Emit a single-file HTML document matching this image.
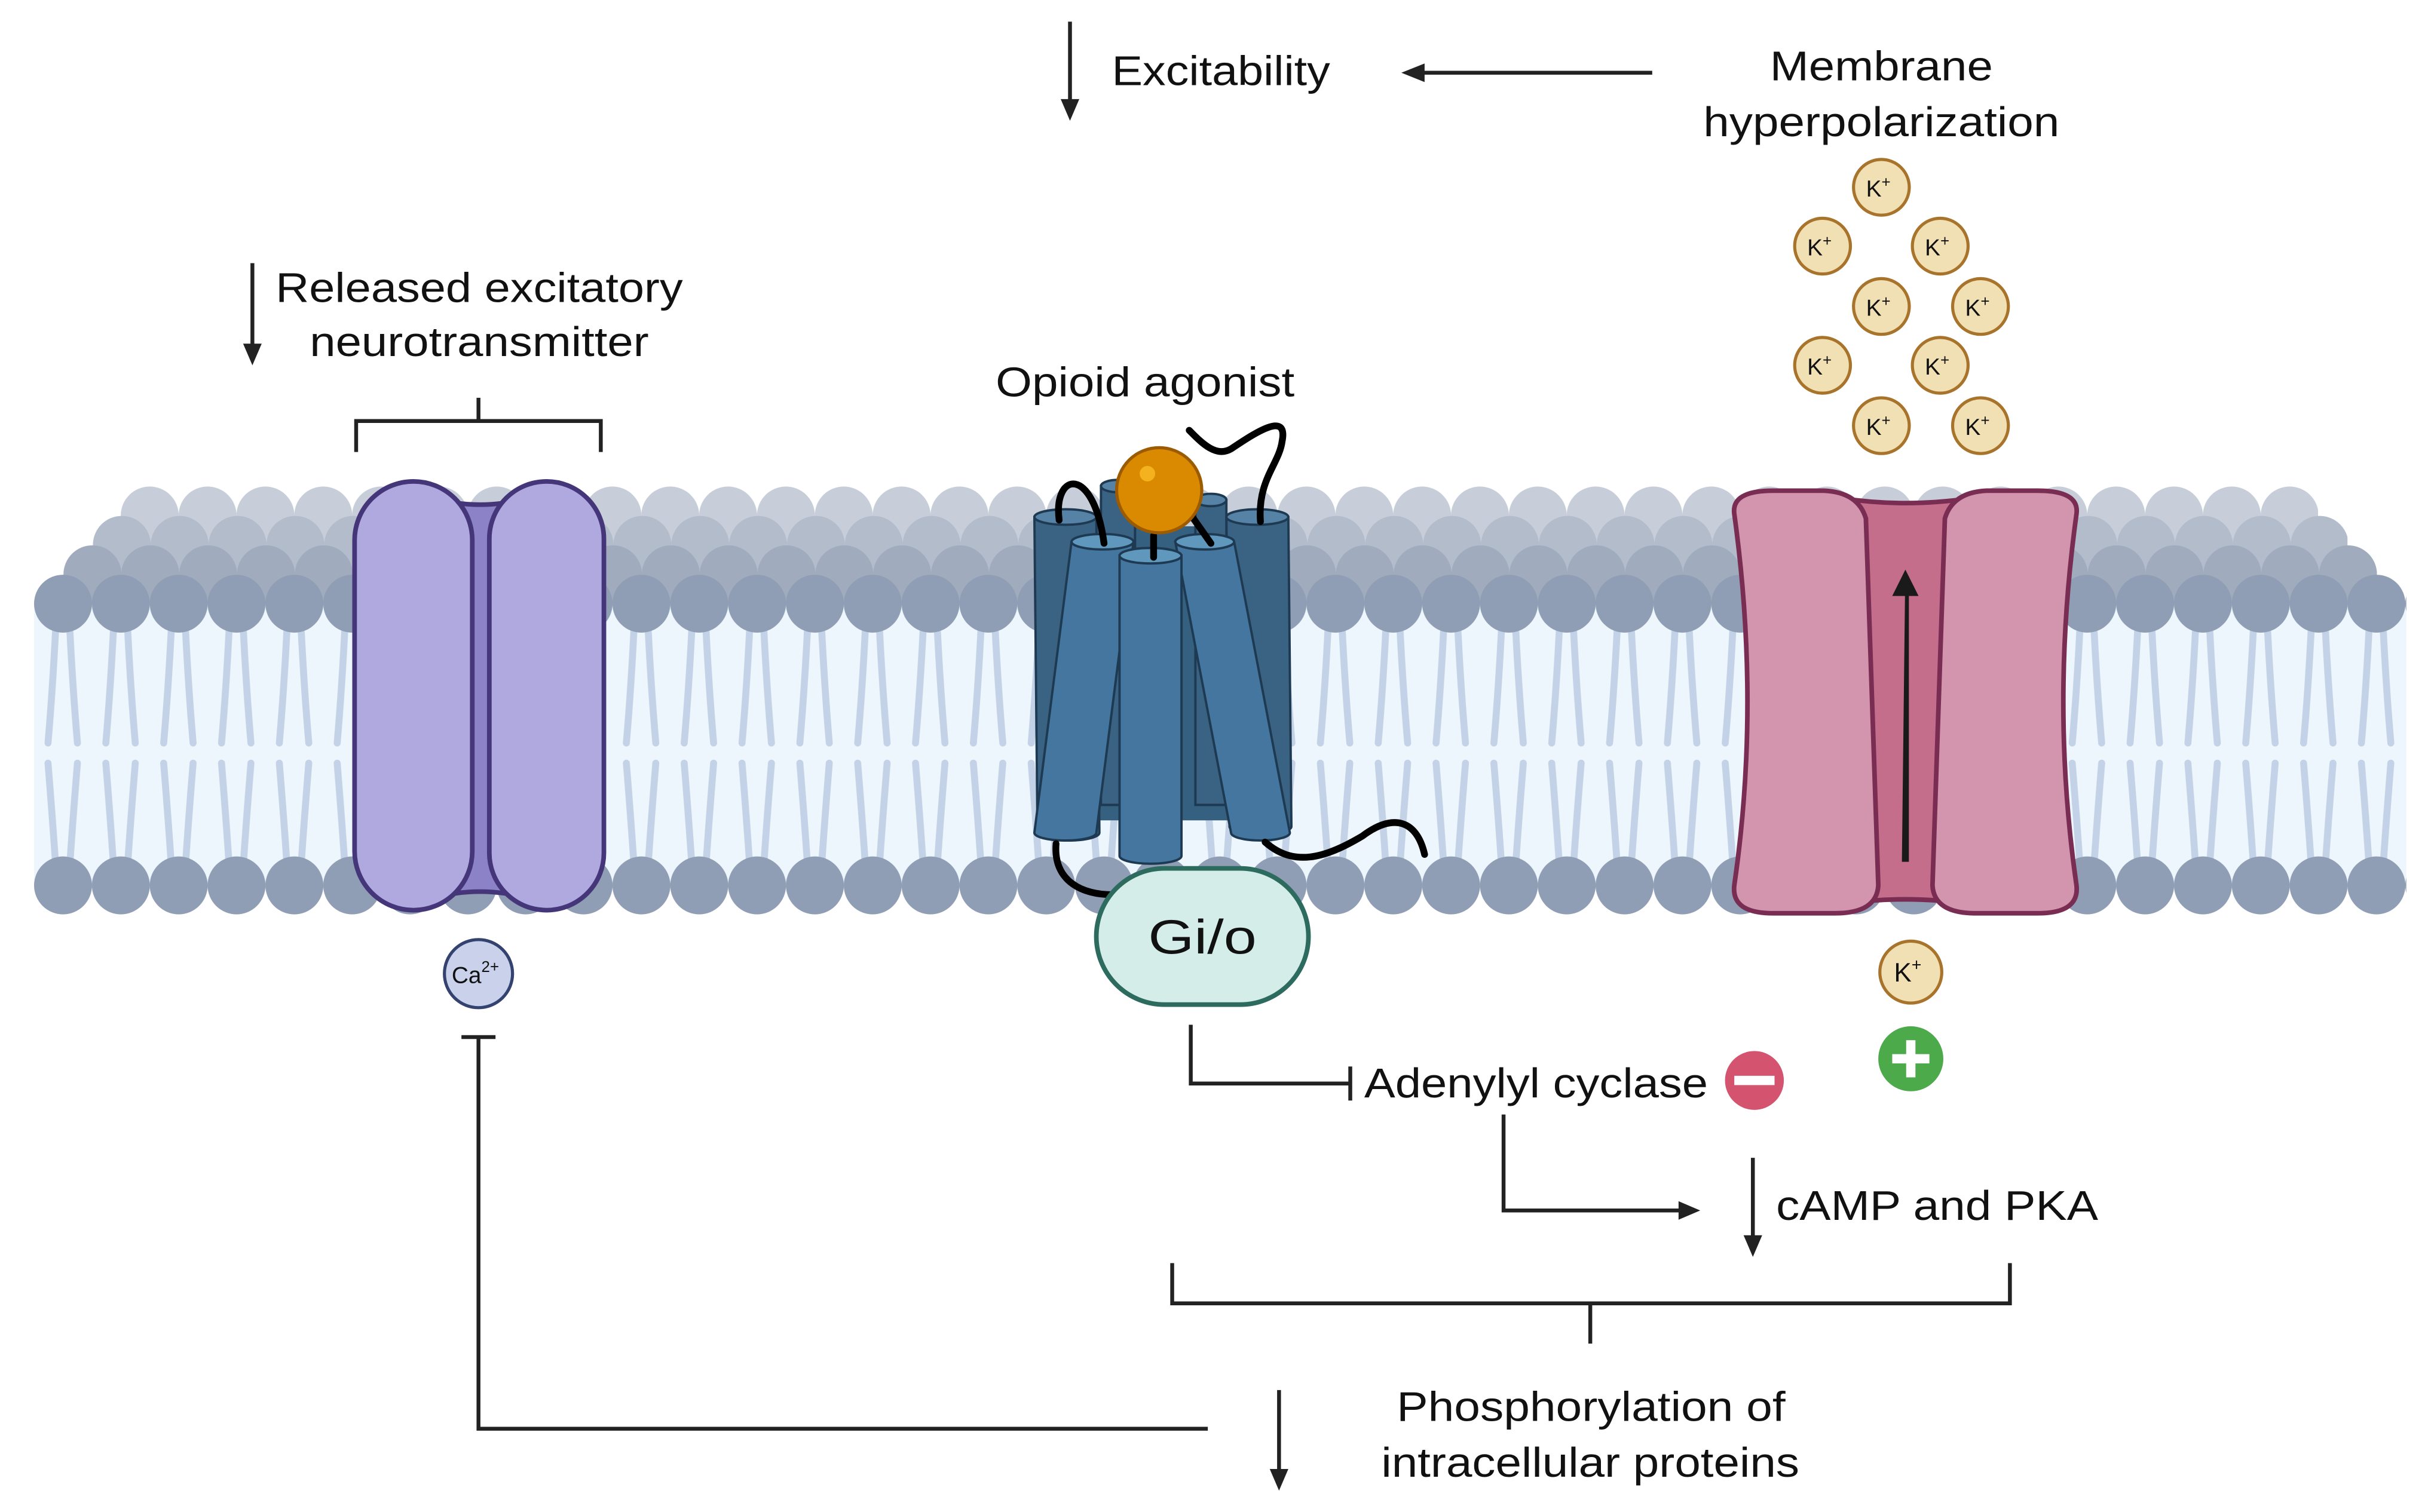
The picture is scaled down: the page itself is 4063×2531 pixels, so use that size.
<!DOCTYPE html>
<html><head><meta charset="utf-8"><style>
html,body{margin:0;padding:0;background:#fff;}
svg{display:block;}
text{font-family:"Liberation Sans",sans-serif;fill:#111;}
</style></head><body>
<svg width="4063" height="2531" viewBox="0 0 1568 976.8" preserveAspectRatio="none" xmlns="http://www.w3.org/2000/svg">
<defs>
<pattern id="h1" patternUnits="userSpaceOnUse" x="78" y="0" width="37.35" height="976.8"><circle cx="18.7" cy="333" r="18.7" fill="#c8ced9"/></pattern>
<pattern id="h2" patternUnits="userSpaceOnUse" x="60" y="0" width="37.35" height="976.8"><circle cx="18.7" cy="352" r="18.7" fill="#b3bccb"/></pattern>
<pattern id="h3" patternUnits="userSpaceOnUse" x="41" y="0" width="37.35" height="976.8"><circle cx="18.7" cy="371" r="18.7" fill="#a0abbd"/></pattern>
<pattern id="h4" patternUnits="userSpaceOnUse" x="22" y="0" width="37.35" height="976.8"><circle cx="18.7" cy="390" r="18.7" fill="#8f9eb4"/><circle cx="18.7" cy="572" r="18.7" fill="#8f9eb4"/></pattern>
<pattern id="tl" patternUnits="userSpaceOnUse" x="22" y="0" width="37.35" height="976.8">
<g stroke="#c3d2e7" stroke-width="4.5" fill="none" stroke-linecap="round">
<path d="M14,405 Q12,445 9,480"/><path d="M23,405 Q25,445 28,480"/>
<path d="M9,493 Q12,530 14,560"/><path d="M28,493 Q25,530 23,560"/>
</g></pattern>
</defs>

<rect x="78" y="310" width="1419" height="50" fill="url(#h1)"/>
<rect x="60" y="330" width="1456" height="50" fill="url(#h2)"/>
<rect x="41" y="350" width="1494" height="50" fill="url(#h3)"/>
<rect x="22" y="390" width="1532" height="182" fill="#eef6fd"/>
<rect x="22" y="390" width="1532" height="182" fill="url(#tl)"/>
<rect x="22" y="370" width="1532" height="40" fill="url(#h4)"/>
<rect x="22" y="552" width="1532" height="40" fill="url(#h4)"/>

<path d="M280,322 Q310,330 340,322 L340,580 Q310,572 280,580 Z" fill="#8c82c8" stroke="#45367a" stroke-width="3"/>
<rect x="229" y="311" width="76" height="277" rx="38" fill="#b0a9df" stroke="#45367a" stroke-width="3"/>
<rect x="316" y="311" width="74" height="277" rx="37" fill="#b0a9df" stroke="#45367a" stroke-width="3"/>

<g stroke="#222" stroke-width="2.5" fill="none">
<path d="M230,292 V272 H388 V292 M309,272 V257"/>
</g>

<path d="M1190,322 Q1230,328 1272,322 L1272,584 Q1230,578 1190,584 Z" fill="#c46e8c" stroke="#7a2d52" stroke-width="3"/>
<path d="M1120,332 Q1118,317 1145,317 L1178,317 Q1200,318 1205,335 L1213,572 Q1212,590 1185,590 L1145,590 Q1118,590 1120,572 Q1137,455 1120,332 Z" fill="#d394ae" stroke="#7a2d52" stroke-width="3"/>
<path d="M1341,332 Q1343,317 1316,317 L1283,317 Q1261,318 1256,335 L1248,572 Q1249,590 1276,590 L1316,590 Q1343,590 1341,572 Q1324,455 1341,332 Z" fill="#d394ae" stroke="#7a2d52" stroke-width="3"/>
<path d="M1229,556 L1232,556 L1232,384 L1231,384 Z" fill="#1a1a1a" stroke="#1a1a1a" stroke-width="1.5"/>
<path d="M1222,385 L1230.5,368 L1239,385 Z" fill="#1a1a1a"/>

<g stroke="#1e3a52" stroke-width="1.5">
<path d="M700,340 L800,340 L800,530 L700,530 Z" fill="#35607f" stroke="none"/>
<path d="M711,314 L711,520 L733,520 L733,314 Z" fill="#3a6383"/><ellipse cx="722" cy="314" rx="11" ry="4" fill="#5582a5"/>
<path d="M772,323 L772,520 L792,520 L792,323 Z" fill="#3a6383"/><ellipse cx="782" cy="323" rx="10" ry="4" fill="#5582a5"/>
<path d="M668,334 L670,538 A20,5 0 0 0 710,538 L708,334 Z" fill="#3a6383"/><ellipse cx="688" cy="334" rx="20" ry="5" fill="#5582a5"/>
<path d="M792,334 L794,534 A20,5 0 0 0 834,534 L832,334 Z" fill="#3a6383"/><ellipse cx="812" cy="334" rx="20" ry="5" fill="#5582a5"/>
<path d="M692,350 L668,538 A20,5 0 0 0 708,538 L732,350 Z" fill="#44769f"/><ellipse cx="712" cy="350" rx="20" ry="5" fill="#6097bc"/>
<path d="M759,350 L795,538 A19,5 0 0 0 833,538 L797,350 Z" fill="#44769f"/><ellipse cx="778" cy="350" rx="19" ry="5" fill="#6097bc"/>
<path d="M723,359 L723,553 A20,5 0 0 0 763,553 L763,359 Z" fill="#44769f"/><ellipse cx="743" cy="359" rx="20" ry="5" fill="#6097bc"/>
</g>
<g stroke="#000" stroke-width="4.4" fill="none" stroke-linecap="round">
<path d="M684,336 C680,305 706,300 713,351"/>
<path d="M745,360 L745,346"/>
<path d="M782,351 L770,334"/>
<path d="M814,337 C812,310 826,300 828,285 C832,265 810,280 795,290 C785,296 775,285 768,278"/>
<path d="M682,545 C680,570 700,578 718,578"/>
<path d="M817,544 C835,560 855,555 880,540 C900,525 915,530 920,552"/>
</g>
<circle cx="748.6" cy="316.7" r="27.5" fill="#d98a00" stroke="#9c5b00" stroke-width="2"/>
<circle cx="741" cy="306" r="5" fill="#f4b21e"/>

<rect x="708" y="561" width="137" height="88" rx="44" fill="#d4ede8" stroke="#2d6b5f" stroke-width="3"/>
<text x="776.5" y="616" font-size="31" text-anchor="middle" textLength="70" lengthAdjust="spacingAndGlyphs">Gi/o</text>

<g stroke="#a8742c" stroke-width="2" fill="#f2e0b5">
<circle cx="1215" cy="121" r="18"/><circle cx="1177" cy="159" r="18"/><circle cx="1253" cy="159" r="18"/>
<circle cx="1215" cy="198" r="18"/><circle cx="1279" cy="198" r="18"/><circle cx="1177" cy="236" r="18"/>
<circle cx="1253" cy="236" r="18"/><circle cx="1215" cy="275" r="18"/><circle cx="1279" cy="275" r="18"/>
<circle cx="1234" cy="628" r="20"/>
</g>
<g font-size="15" text-anchor="middle">
<text x="1213" y="127">K<tspan dy="-6" font-size="10">+</tspan></text>
<text x="1175" y="165">K<tspan dy="-6" font-size="10">+</tspan></text>
<text x="1251" y="165">K<tspan dy="-6" font-size="10">+</tspan></text>
<text x="1213" y="204">K<tspan dy="-6" font-size="10">+</tspan></text>
<text x="1277" y="204">K<tspan dy="-6" font-size="10">+</tspan></text>
<text x="1175" y="242">K<tspan dy="-6" font-size="10">+</tspan></text>
<text x="1251" y="242">K<tspan dy="-6" font-size="10">+</tspan></text>
<text x="1213" y="281">K<tspan dy="-6" font-size="10">+</tspan></text>
<text x="1277" y="281">K<tspan dy="-6" font-size="10">+</tspan></text>
<text x="1232" y="634" font-size="17">K<tspan dy="-7" font-size="11">+</tspan></text>
</g>

<circle cx="309" cy="629" r="22" fill="#c9d2ea" stroke="#34426f" stroke-width="2"/>
<text x="307" y="635" font-size="15" text-anchor="middle">Ca<tspan dy="-7" font-size="10">2+</tspan></text>

<circle cx="1234" cy="684" r="21" fill="#4caa4a"/>
<rect x="1222" y="681" width="24" height="6" fill="#fff"/><rect x="1231" y="672" width="6" height="24" fill="#fff"/>
<circle cx="1133" cy="698" r="19" fill="#d4536f"/>
<rect x="1120" y="695" width="26" height="6" fill="#fff"/>

<g stroke="#222" stroke-width="2.5" fill="none">
<path d="M691,14 V68"/>
<path d="M1067,47 H918"/>
<path d="M163,170 V226"/>
<path d="M769,662 V700 H872 M872,689 V711"/>
<path d="M971,720 V782 H1086"/>
<path d="M1132,748 V802"/>
<path d="M757,816 V842 H1298 V816 M1027,842 V868"/>
<path d="M826,898 V953"/>
<path d="M780,923 H309 V670 M298,670 H320"/>
</g>
<g fill="#222">
<path d="M685,64 L691,78 L697,64 Z"/>
<path d="M920,41 L905,47 L920,53 Z"/>
<path d="M157,222 L163,236 L169,222 Z"/>
<path d="M1084,776 L1098,782 L1084,788 Z"/>
<path d="M1126,798 L1132,812 L1138,798 Z"/>
<path d="M820,949 L826,963 L832,949 Z"/>
</g>

<g font-size="27" lengthAdjust="spacingAndGlyphs">
<text x="718" y="55" textLength="141" lengthAdjust="spacingAndGlyphs">Excitability</text>
<text x="1143" y="52" textLength="144" lengthAdjust="spacingAndGlyphs">Membrane</text>
<text x="1100" y="88" textLength="230" lengthAdjust="spacingAndGlyphs">hyperpolarization</text>
<text x="178" y="195" textLength="263" lengthAdjust="spacingAndGlyphs">Released excitatory</text>
<text x="200" y="230" textLength="219" lengthAdjust="spacingAndGlyphs">neurotransmitter</text>
<text x="643" y="256" textLength="193" lengthAdjust="spacingAndGlyphs">Opioid agonist</text>
<text x="881" y="709" textLength="222" lengthAdjust="spacingAndGlyphs">Adenylyl cyclase</text>
<text x="1147" y="788" textLength="208" lengthAdjust="spacingAndGlyphs">cAMP and PKA</text>
<text x="902" y="918" textLength="251" lengthAdjust="spacingAndGlyphs">Phosphorylation of</text>
<text x="892" y="954" textLength="270" lengthAdjust="spacingAndGlyphs">intracellular proteins</text>
</g>
</svg>
</body></html>
